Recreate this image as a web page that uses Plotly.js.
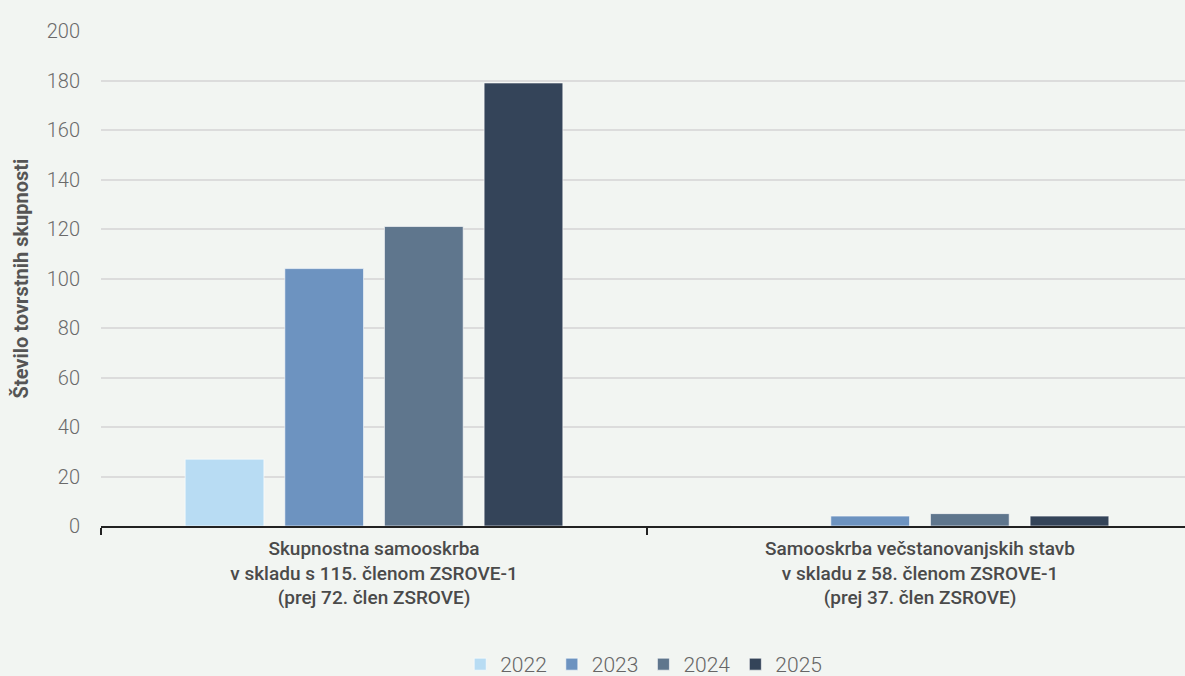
<!DOCTYPE html>
<html><head><meta charset="utf-8">
<script src="https://cdn.plot.ly/plotly-3.0.1.min.js"></script>
<style>html,body{margin:0;padding:0;overflow:hidden;background:#f2f5f2;}#c{width:1193px;height:676px;}</style>
</head><body><div id="c"></div>
<script>
const categories = [
  "Skupnostna samooskrba<br>v skladu s 115. členom ZSROVE-1<br>(prej 72. člen ZSROVE)",
  "Samooskrba večstanovanjskih stavb<br>v skladu z 58. členom ZSROVE-1<br>(prej 37. člen ZSROVE)"
];
const years = ["2022", "2023", "2024", "2025"];
const v2022 = [27, 0];
const v2023 = [104, 4];
const v2024 = [121, 5];
const v2025 = [179, 4];
const yTicks = [0, 20, 40, 60, 80, 100, 120, 140, 160, 180, 200];
const colors = ["#b8dcf3", "#6d93c0", "#5f768d", "#344459"];
const series = [v2022, v2023, v2024, v2025];

const traces = series.map((vals, i) => ({
  type: "bar", name: years[i], x: categories, y: vals,
  marker: {color: colors[i], line: {color: "rgba(255,255,255,0.6)", width: 1}},
  hoverinfo: "x+y+name"
}));

const layout = {
  width: 1193, height: 676,
  paper_bgcolor: "#f2f5f2", plot_bgcolor: "#f2f5f2",
  font: {family: "Roboto, sans-serif", color: "#666"},
  margin: {l: 101, r: 0, t: 31, b: 150},
  barmode: "group", bargap: 0.27, bargroupgap: 0.21,
  xaxis: {
    automargin: false,
    showline: true, linecolor: "#222", linewidth: 2,
    ticks: "outside", tickson: "boundaries", ticklen: 7, tickcolor: "#222", tickwidth: 2,
    tickfont: {size: 19, color: "#4a4a4a", family: "Roboto, sans-serif", weight: 500},
    ticklabelstandoff: 4, showgrid: false
  },
  yaxis: {
    automargin: false,
    range: [0, 200], tickvals: yTicks, showgrid: true, gridcolor: "#dcdcdc", gridwidth: 2,
    zeroline: false, tickfont: {size: 20, color: "#6a6a6a", weight: 300}, ticks: "", ticklabelstandoff: 20,
    title: {text: "Število tovrstnih skupnosti", font: {size: 20, color: "#555", weight: "bold"}, standoff: 12}
  },
  legend: {orientation: "h", x: 0.497, xanchor: "center", yref: "container", y: 0.017, yanchor: "middle",
    font: {size: 21, color: "#666", weight: 300}, itemwidth: 30, tracegroupgap: 0},
  showlegend: true
};
Plotly.newPlot("c", traces, layout, {displayModeBar: false, staticPlot: true});
</script></body></html>
